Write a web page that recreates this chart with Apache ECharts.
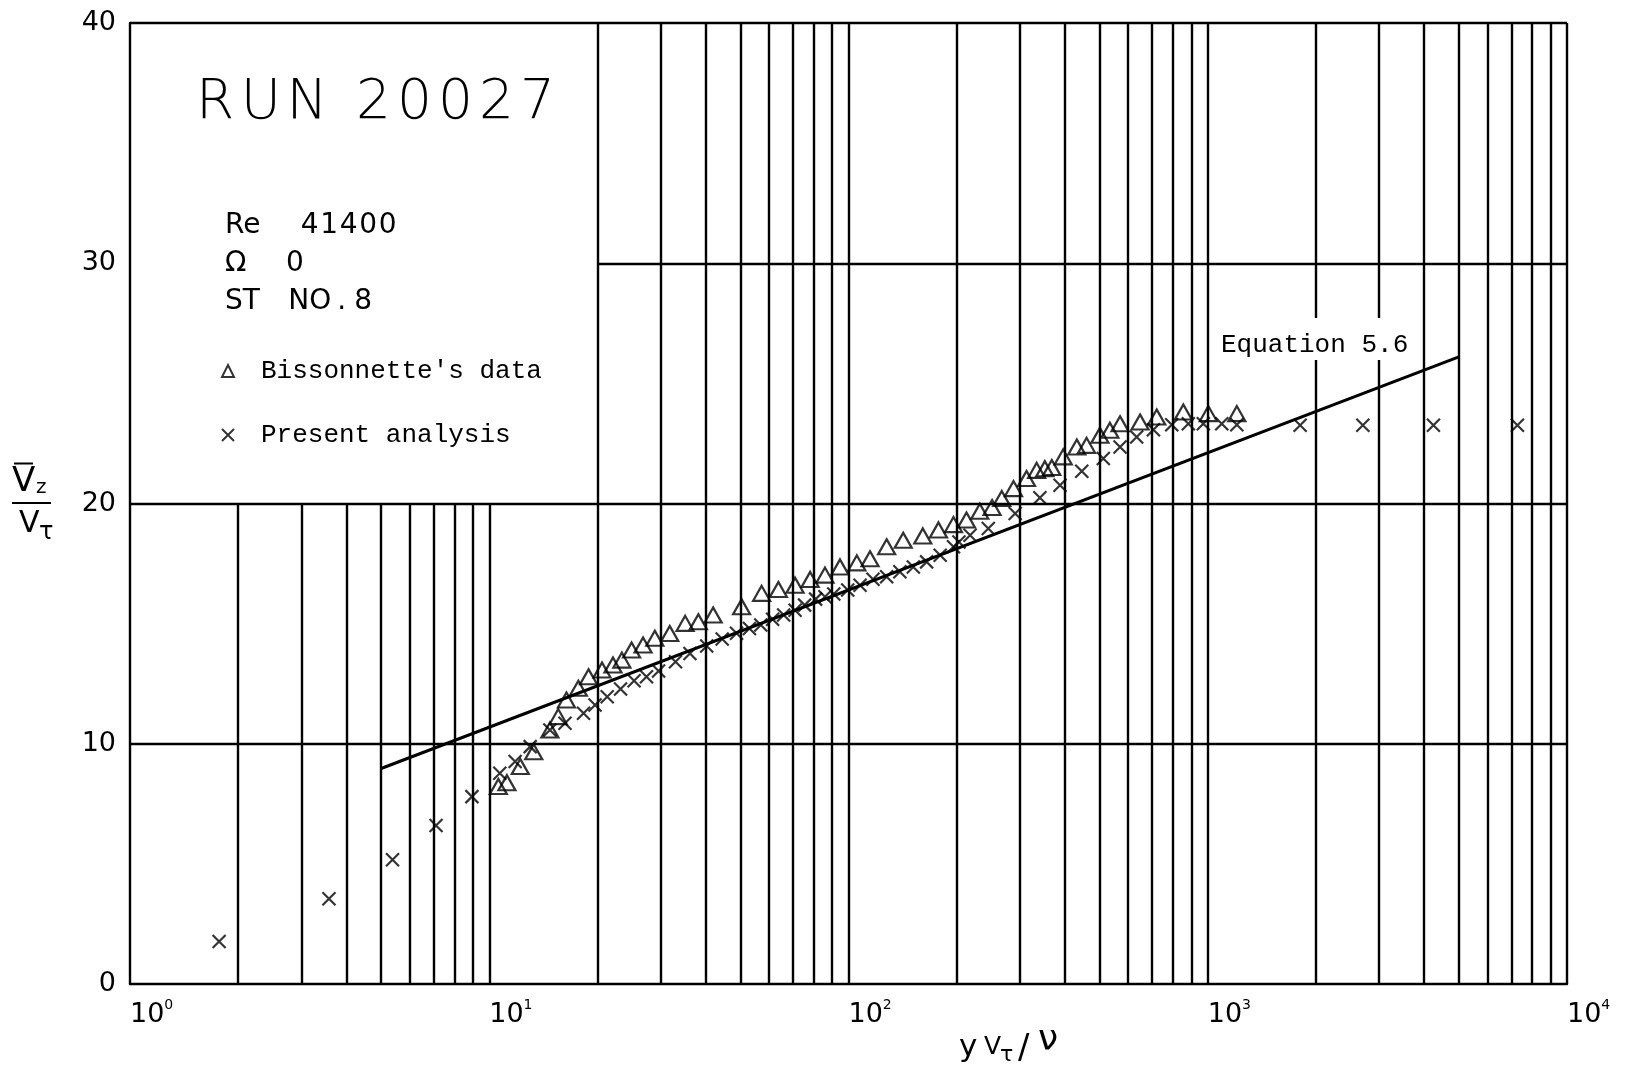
<!DOCTYPE html>
<html>
<head>
<meta charset="utf-8">
<script src="https://cdn.jsdelivr.net/npm/echarts@6/dist/echarts.min.js"></script>
<style>
html,body{margin:0;padding:0;background:#fff;}
#chart{width:1627px;height:1074px;}
</style>
</head>
<body>
<div id="chart"></div>
<script>
// ---- Data ----
// Present analysis (x markers): y V_tau / nu  and  Vz / V_tau
const presentX = [1.77, 3.58, 5.38, 7.11, 8.95, 10.7, 11.8, 13.0, 14.75, 16.25, 18.3, 19.7, 21.3, 23.2, 25.3, 27.4, 29.6, 33.0, 36.2, 40.3, 44.5, 48.8, 53.0, 57.0, 61.5, 66.0, 71.0, 75.5, 81.0, 86.0, 91.0, 99.5, 107.7, 117, 127.7, 139, 151.5, 165, 180, 196, 203, 218, 245, 291, 341, 388, 446, 512, 570, 634, 706, 794, 883, 972, 1094, 1205, 1808, 2702, 4248, 7278];
const presentY = [1.77, 3.55, 5.17, 6.60, 7.80, 8.77, 9.26, 9.88, 10.57, 10.85, 11.27, 11.61, 11.96, 12.28, 12.62, 12.79, 13.03, 13.41, 13.76, 14.07, 14.36, 14.60, 14.80, 14.94, 15.18, 15.36, 15.56, 15.77, 16.02, 16.12, 16.23, 16.40, 16.60, 16.85, 16.95, 17.16, 17.36, 17.57, 17.85, 18.20, 18.40, 18.68, 18.96, 19.58, 20.24, 20.76, 21.34, 21.87, 22.35, 22.77, 23.07, 23.28, 23.32, 23.32, 23.32, 23.28, 23.26, 23.26, 23.26, 23.26];

// Bissonnette's data (triangles)
const bissX = [10.6, 11.2, 12.2, 13.3, 14.75, 15.56, 16.4, 17.7, 18.9, 20.6, 22.1, 23.4, 24.9, 26.8, 28.9, 31.8, 35.1, 38.2, 42, 50.4, 57.3, 63.8, 71, 78.2, 86, 94.7, 105.5, 114.8, 127.7, 142, 161, 178, 196, 213, 232, 251, 267, 288, 313, 334, 352, 368, 396, 432, 460, 501, 534, 570, 648, 721, 855, 1004, 1205];
const bissY = [8.22, 8.38, 9.05, 9.67, 10.57, 11.13, 11.82, 12.31, 12.79, 13.07, 13.28, 13.48, 13.90, 14.11, 14.39, 14.59, 15.01, 15.08, 15.36, 15.70, 16.26, 16.42, 16.60, 16.84, 17.02, 17.36, 17.53, 17.70, 18.20, 18.47, 18.65, 18.90, 19.12, 19.31, 19.68, 19.83, 20.21, 20.62, 21.04, 21.38, 21.45, 21.50, 21.94, 22.35, 22.42, 22.84, 23.05, 23.32, 23.39, 23.60, 23.81, 23.74, 23.74];

// Equation 5.6 (straight line on semi-log paper), end points
const eqX = [5, 5000];
const eqY = [8.97, 26.1];

// Axes / ruling
const xMin = 1, xMax = 10000;
const yMin = 0, yMax = 40, yStep = 10;
const xRuleValues = [2,3,4,5,6,7,8,9,10,20,30,40,50,60,70,80,90,100,200,300,400,500,600,700,800,900,1000,2000,3000,4000,5000,6000,7000,8000,9000];
const yRuleValues = [10, 20, 30, 40];
// the text panel in the upper left (in data units): x < boxX and y > boxY left blank
const boxX = 20, boxY = 20;

const seriesNames = ["Bissonnette's data", "Present analysis"];
const runLabel = ['RUN', '20027'];
const panelKeys = ['Re', 'Ω', 'ST'];
const panelValues = ['41400', '0', 'NO.8'];
const eqLabel = 'Equation 5.6';

// ---- Build ----
const plotFont = '"DejaVu Sans", sans-serif';
const monoFont = '"Liberation Mono", "DejaVu Sans Mono", monospace';
const crossPath = 'path://M0,0L10,10M10,0L0,10';
const INK = '#000';
const RULE_W = 2.4;

const spread = s => s.split('').map(c => '{c|' + c + '}').join('');

const rules = [];
xRuleValues.forEach(v => {
  const top = v < boxX ? boxY : yMax;
  rules.push([{coord: [v, yMin]}, {coord: [v, top]}]);
});
rules.push([{coord: [xMax, yMin]}, {coord: [xMax, yMax]}]);
yRuleValues.forEach(v => {
  const left = (v > boxY && v < yMax) ? boxX : xMin;
  rules.push([{coord: [left, v]}, {coord: [xMax, v]}]);
});

function cellText(x, y, str, fontSize, cell, weight) {
  return {
    type: 'text', z: 100, x: x, y: y,
    style: {
      text: spread(str), verticalAlign: 'middle',
      rich: {c: {width: cell, align: 'center', fontSize: fontSize, fontFamily: plotFont, fontWeight: weight, color: INK}}
    }
  };
}
function plainText(x, y, str, fontSize, weight, family) {
  return {type: 'text', z: 100, x: x, y: y,
    style: {text: str, fontSize: fontSize, fontFamily: family || plotFont, fontWeight: weight || 'normal', fill: INK, verticalAlign: 'middle'}};
}

const chart = echarts.init(document.getElementById('chart'), null, {renderer: 'canvas'});
chart.setOption({
  backgroundColor: '#fff',
  animation: false,
  grid: {left: 130, right: 60, top: 23, bottom: 90, containLabel: false},
  xAxis: {
    type: 'log', logBase: 10, min: xMin, max: xMax,
    splitLine: {show: false},
    axisTick: {show: false},
    minorTick: {show: false},
    axisLine: {show: true, onZero: false, lineStyle: {color: INK, width: RULE_W}},
    axisLabel: {
      align: 'left', margin: 14,
      formatter: v => '{b|10}{s|' + Math.round(Math.log10(v)) + '}',
      rich: {
        b: {fontSize: 27, fontFamily: plotFont, color: INK, lineHeight: 30, verticalAlign: 'bottom'},
        s: {fontSize: 14, fontFamily: plotFont, color: INK, lineHeight: 30, verticalAlign: 'top'}
      }
    }
  },
  yAxis: {
    type: 'value', min: yMin, max: yMax, interval: yStep,
    splitLine: {show: false},
    axisTick: {show: false},
    axisLine: {show: true, onZero: false, lineStyle: {color: INK, width: RULE_W}},
    axisLabel: {fontSize: 27, fontFamily: plotFont, color: INK, margin: 14}
  },
  legend: {
    data: [
      {name: seriesNames[0], icon: 'triangle', itemStyle: {color: 'rgba(0,0,0,0)', borderColor: INK, borderWidth: 2}},
      {name: seriesNames[1], icon: crossPath, itemStyle: {color: INK, borderColor: INK, borderWidth: 2}}
    ],
    orient: 'vertical', left: 221, top: 358, padding: 0,
    itemWidth: 12, itemHeight: 12, itemGap: 38,
    selectedMode: false,
    formatter: n => '{g|}{t|' + n + '}',
    textStyle: {
      color: INK,
      rich: {
        g: {width: 22},
        t: {fontFamily: monoFont, fontSize: 26, color: INK, lineHeight: 32}
      }
    }
  },
  series: [
    {
      name: 'rules', type: 'line', data: [], silent: true, z: 1,
      markLine: {
        silent: true, symbol: ['none', 'none'], animation: false,
        label: {show: false},
        emphasis: {disabled: true},
        lineStyle: {color: INK, width: RULE_W, type: 'solid'},
        data: rules
      }
    },
    {
      name: 'Equation 5.6', type: 'line', silent: true, z: 3,
      data: eqX.map((x, i) => [x, eqY[i]]),
      symbol: 'none', showSymbol: false,
      lineStyle: {color: INK, width: 3}
    },
    {
      name: seriesNames[0], type: 'scatter', z: 5,
      data: bissX.map((x, i) => [x, bissY[i]]),
      symbol: 'triangle', symbolSize: [17, 15],
      itemStyle: {color: 'rgba(0,0,0,0)', borderColor: INK, borderWidth: 2.2}
    },
    {
      name: seriesNames[1], type: 'scatter', z: 6,
      data: presentX.map((x, i) => [x, presentY[i]]),
      symbol: crossPath, symbolSize: 13,
      itemStyle: {color: INK, borderColor: INK, borderWidth: 2.2}
    }
  ],
  graphic: {
    elements: [
      cellText(192, 104, runLabel[0], 55, 46, 200),
      cellText(353, 104, runLabel[1], 55, 41, 200),
      plainText(225, 226, panelKeys[0], 28),
      cellText(300, 226, panelValues[0], 28, 19.5, 'normal'),
      plainText(225, 264, panelKeys[1], 28),
      plainText(286, 264, panelValues[1], 28),
      plainText(225, 302, panelKeys[2], 28),
      cellText(288, 302, panelValues[2], 28, 21.5, 'normal'),
      // Equation label with white ground
      {type: 'rect', z: 100, shape: {x: 1214, y: 318, width: 204, height: 42}, style: {fill: '#fff'}},
      plainText(1221, 345, eqLabel, 26, 'normal', monoFont),
      // y-axis title  Vz / V_tau
      {type: 'line', z: 100, shape: {x1: 14, y1: 463.5, x2: 33, y2: 463.5}, style: {stroke: INK, lineWidth: 2}},
      plainText(12, 482, 'V', 34),
      plainText(36, 488, 'z', 20),
      {type: 'line', z: 100, shape: {x1: 12, y1: 503, x2: 51, y2: 503}, style: {stroke: INK, lineWidth: 2}},
      plainText(19, 524, 'V', 30),
      plainText(39, 533, 'τ', 24),
      // x-axis title  y V_tau / nu
      plainText(959, 1048, 'y', 31),
      plainText(984, 1047, 'V', 25),
      plainText(1000, 1055, 'τ', 22),
      plainText(1018, 1049, '/', 34),
      plainText(1038, 1041, 'ν', 36)
    ]
  }
});
</script>
</body>
</html>
